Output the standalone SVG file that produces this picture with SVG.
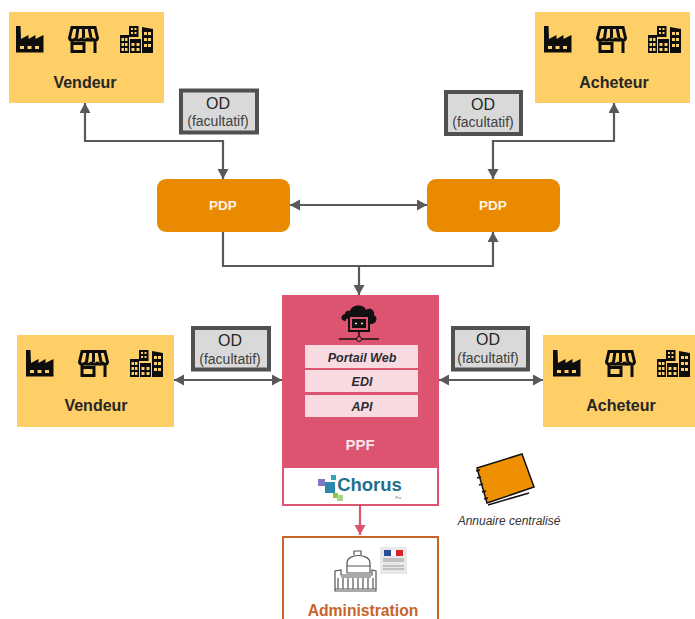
<svg xmlns="http://www.w3.org/2000/svg" width="695" height="619" viewBox="0 0 695 619">
<style>
text{font-family:"Liberation Sans",Arial,sans-serif;text-anchor:middle}
.party{fill:#fdcf66}
.partyt{font-size:16px;font-weight:700;fill:#262626}
.od{fill:#d9d9d9;stroke:#505050;stroke-width:4}
.odt{font-size:16px;fill:#262626}
.ods{font-size:14px;fill:#404040}
.pdp{fill:#ea8a00}
.pdpt{font-size:13.500px;font-weight:700;fill:#fdf3e3}
.line{fill:none;stroke:#595959;stroke-width:2.200}
.in{fill:#f8dae1}
.int{font-size:12.500px;font-weight:700;font-style:italic;fill:#2b2b33}
</style>
<defs>
<marker id="a" markerUnits="userSpaceOnUse" markerWidth="12" markerHeight="12" refX="10" refY="5.500" orient="auto-start-reverse"><path d="M0 0L10 5.500L0 11z" fill="#595959"/></marker>
<marker id="r" markerUnits="userSpaceOnUse" markerWidth="12" markerHeight="12" refX="10" refY="5.500" orient="auto"><path d="M0 0L10 5.500L0 11z" fill="#dd5470"/></marker>
<g id="icons">
<path fill="#0d0d0d" fill-rule="evenodd" d="M0 0h4.500l.5 13 7.500-4v4l7-4v4L27.500 9V26.500H0zM4 20v3h4v-3zm7.500 0v3h4v-3zm7.500 0v3h4v-3z"/>
<g transform="translate(53 0)" fill="none" stroke="#0d0d0d" stroke-width="3"><path d="M3 1.500H26L28.500 12C28 15 24 15 23.500 12 23 15 19 15 18.500 12 18 15 13 15 12.500 12 12 15 7 15 6.500 12 6 15 1 15 .5 12zM9 1.500L7.500 12M14.500 1.500V12M20 1.500L22 12M3 13V27M26 13V27M3 17.500H15V25.500H3z"/></g>
<g transform="translate(104 0)" fill="#0d0d0d">
<path fill-rule="evenodd" d="M9 0h9.500v11H9zM11 2v2h2V2zm3.500 0v2h2V2zM11 6v2h2V6zm3.500 0v2h2V6z"/>
<path fill-rule="evenodd" d="M0 9h9v18H0zM1.500 12v3h2.500v-3zm3.500 0v3h2.500v-3zM1.500 17v3h2.500v-3zm3.500 0v3h2.500v-3zM1.500 22v3h2.500v-3zm3.500 0v3h2.500v-3z"/>
<path fill-rule="evenodd" d="M10 13h11v14H10zM11.500 17v3h3v-3zm5 0v3h3v-3zM11.500 22v3h3v-3zm5 0v3h3v-3z"/>
<path fill-rule="evenodd" d="M22 1l11 2v24H22zM24 6v3h3V6zm4 0v3h3V6zM24 12v3h3v-3zm4 0v3h3v-3zM24 18v3h3v-3zm4 0v3h3v-3z"/>
</g>
</g>
</defs>

<g id="connectors">
<path class="line" marker-start="url(#a)" marker-end="url(#a)" d="M85 103V141H223V179"/>
<path class="line" marker-start="url(#a)" marker-end="url(#a)" d="M614 103V141H493V179"/>
<path class="line" marker-start="url(#a)" marker-end="url(#a)" d="M290 205H427"/>
<path class="line" marker-end="url(#a)" d="M223 232V266H493V232"/>
<path class="line" marker-end="url(#a)" d="M359 266V295"/>
<path class="line" marker-start="url(#a)" marker-end="url(#a)" d="M174 380H282"/>
<path class="line" marker-start="url(#a)" marker-end="url(#a)" d="M439 380H543"/>
<path fill="none" stroke="#dd5470" stroke-width="2.200" marker-end="url(#r)" d="M360 505V535"/>
</g>

<g id="vendeur-top"><rect class="party" x="9" y="12" width="155" height="91"/><use href="#icons" transform="translate(16 26)"/><text class="partyt" x="85" y="88">Vendeur</text></g>
<g id="acheteur-top"><rect class="party" x="535" y="12" width="155" height="91"/><use href="#icons" transform="translate(544 26)"/><text class="partyt" x="614" y="88">Acheteur</text></g>
<g id="vendeur-bottom"><rect class="party" x="17" y="335" width="157" height="92"/><use href="#icons" transform="translate(26 350)"/><text class="partyt" x="96" y="411">Vendeur</text></g>
<g id="acheteur-bottom"><rect class="party" x="543" y="335" width="152" height="92"/><use href="#icons" transform="translate(553 350)"/><text class="partyt" x="621" y="411">Acheteur</text></g>

<g id="od-1"><rect class="od" x="181" y="90.500" width="76" height="42"/><text class="odt" x="218" y="109">OD</text><text class="ods" x="218" y="126">(facultatif)</text></g>
<g id="od-2"><rect class="od" x="446" y="92" width="75" height="42"/><text class="odt" x="483" y="110">OD</text><text class="ods" x="483" y="127">(facultatif)</text></g>
<g id="od-3"><rect class="od" x="193" y="328" width="76" height="41.500"/><text class="odt" x="230" y="346">OD</text><text class="ods" x="230" y="364">(facultatif)</text></g>
<g id="od-4"><rect class="od" x="453" y="328" width="75" height="41.500"/><text class="odt" x="488" y="345">OD</text><text class="ods" x="488" y="363">(facultatif)</text></g>

<g id="pdp-left"><rect class="pdp" x="157" y="179" width="133" height="53" rx="9"/><text class="pdpt" x="223" y="210">PDP</text></g>
<g id="pdp-right"><rect class="pdp" x="427" y="179" width="133" height="53" rx="9"/><text class="pdpt" x="493" y="210">PDP</text></g>

<g id="ppf">
<rect x="282" y="295" width="157" height="210" fill="#dd5470"/>
<rect x="283" y="467" width="155" height="38" fill="#fff" stroke="#dd5470" stroke-width="2"/>
<path fill="#111" d="M346 321c-6 0-6-6-1-7 0-3 3-4 5-3 2-7 14-7 16-1 4-3 9 0 8 5 4 2 3 8-2 9h-3v-5h-23z"/>
<rect x="349" y="316" width="20" height="15" fill="#dd5470" stroke="#111" stroke-width="2"/>
<rect x="352" y="319" width="14" height="9" fill="#111"/>
<path d="M355 323.500h2M361 323.500h2" stroke="#f8dae1" stroke-width="1.500"/>
<path d="M339 339H379M359 331V336" stroke="#111" stroke-width="1.500" fill="none"/>
<circle cx="359" cy="339" r="2.500" fill="#dd5470" stroke="#111"/>
<rect class="in" x="305" y="345" width="113" height="23"/><text class="int" x="362" y="362">Portail Web</text>
<rect class="in" x="305" y="370" width="113" height="22"/><text class="int" x="362" y="386">EDI</text>
<rect class="in" x="305" y="395" width="113" height="22"/><text class="int" x="362" y="411">API</text>
<text x="360" y="450" font-size="15" font-weight="700" fill="#f8e3e7">PPF</text>
<rect x="318" y="479" width="7" height="7" fill="#7f78c4"/>
<rect x="325" y="482" width="10" height="11" fill="#2a89ad"/>
<rect x="331" y="475" width="5" height="5" fill="#3aa0b8"/>
<rect x="333" y="493" width="5" height="5" fill="#8cc63f"/>
<rect x="337" y="495" width="6" height="6" fill="#a5d58a"/>
<text x="369.500" y="491" font-size="18.500" font-weight="700" fill="#1f6f8f">Chorus</text>
<text x="398" y="499" font-size="4" font-style="italic" fill="#666">Pro</text>
</g>

<g id="annuaire">
<path d="M477 468L522 454L534 487L487 503z" fill="#ee9000" stroke="#111" stroke-width="1.500"/>
<path d="M488 505L529 493" stroke="#111" stroke-width="1.500" fill="none"/>
<path d="M476 471l4-1M477 478l4-1M479 485l4-1M482 492l4-1M484 499l4-1" stroke="#111" stroke-width="1.500" fill="none"/>
<text x="509" y="525" font-size="12" font-style="italic" fill="#333">Annuaire centralisé</text>
</g>

<g id="administration">
<rect x="283" y="537" width="155" height="90" fill="#fff" stroke="#c8642a" stroke-width="2"/>
<g fill="none" stroke="#555" stroke-width="1.200">
<path d="M335 591V571L341 570V575H372V570L376 571V591zM335 589H376M338 578V589M343 578V589M348 578V589M353 578V589M358 578V589M363 578V589M368 578V589M373 578V589"/>
<path d="M347 573V563C347 553 370 553 370 563V573zM347 566H370M354 555V551H361V555M341 577H371"/>
</g>
<rect x="380" y="547" width="27" height="27" fill="#e8e8e8"/>
<rect x="384" y="550" width="7" height="6" fill="#2a4a9a"/>
<rect x="391" y="550" width="5" height="6" fill="#fff"/>
<rect x="396" y="550" width="7" height="6" fill="#d8232a"/>
<path d="M383 559H404M383 561H404M383 566H404M383 569H404" stroke="#999" stroke-width="1"/>
<text x="363" y="615.500" font-size="15.700" font-weight="700" fill="#c8642a">Administration</text>
</g>
</svg>
